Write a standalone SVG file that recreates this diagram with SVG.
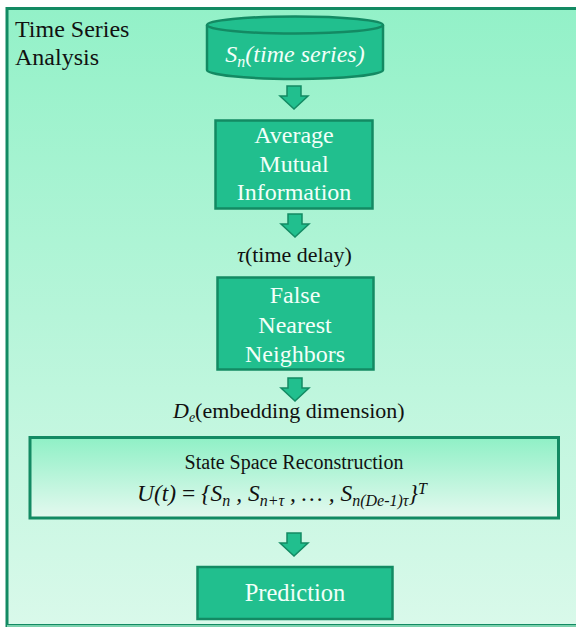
<svg xmlns="http://www.w3.org/2000/svg" width="576" height="627" viewBox="0 0 576 627">
<defs>
<linearGradient id="bg" x1="0" y1="0" x2="0" y2="1">
<stop offset="0" stop-color="#93F1C8"/>
<stop offset="1" stop-color="#D9F9EA"/>
</linearGradient>
<linearGradient id="ssr" x1="0" y1="0" x2="0" y2="1">
<stop offset="0" stop-color="#8FF0C6"/>
<stop offset="1" stop-color="#E4F9EF"/>
</linearGradient>
<path id="arr" d="M-7,0 H7 V10 H14 L0,23 L-14,10 H-7 Z"/>
</defs>
<style>
text{font-family:"Liberation Serif","Tinos","Times New Roman","DejaVu Serif",serif}
.box{fill:#21BF8E;stroke:#138A63;stroke-width:2.5}
.wt{fill:#F2FFF9;text-anchor:middle}
.bt{fill:#111}
.ar{fill:#21BF8E;stroke:#138A63;stroke-width:1.5}
</style>
<rect x="0" y="0" width="576" height="627" fill="#fff"/>
<rect x="7" y="8.5" width="575" height="617" fill="url(#bg)" stroke="#138A63" stroke-width="3"/>
<line x1="7" y1="626" x2="576" y2="626" stroke="#9FE8C6" stroke-width="1.5"/>
<g id="title">
<text class="bt" x="15" y="37" font-size="24">Time Series</text>
<text class="bt" x="15" y="65" font-size="24">Analysis</text>
</g>
<g id="timeseries">
<path class="box" d="M207,25 V70 A88,9 0 0 0 383,70 V25"/>
<ellipse class="box" cx="295" cy="25" rx="88" ry="8.5"/>
<text class="wt" x="295" y="62" font-size="24" font-style="italic">S<tspan dy="5" font-size="16">n</tspan><tspan dy="-5">(time series)</tspan></text>
</g>
<g id="ami">
<rect class="box" x="215.5" y="120.5" width="157" height="88"/>
<text class="wt" x="294" y="143" font-size="24">Average</text>
<text class="wt" x="294" y="172" font-size="24">Mutual</text>
<text class="wt" x="294" y="200" font-size="24">Information</text>
</g>
<g id="tau">
<text class="bt" x="237" y="262" font-size="22"><tspan font-style="italic">τ</tspan>(time delay)</text>
</g>
<g id="fnn">
<rect class="box" x="217.5" y="277.5" width="156" height="92"/>
<text class="wt" x="295" y="303" font-size="24">False</text>
<text class="wt" x="295" y="333" font-size="24">Nearest</text>
<text class="wt" x="295" y="362" font-size="24">Neighbors</text>
</g>
<g id="de">
<text class="bt" x="173" y="418" font-size="22"><tspan font-style="italic">D</tspan><tspan font-style="italic" dy="4" font-size="14">e</tspan><tspan dy="-4">(embedding dimension)</tspan></text>
</g>
<g id="ssrnode">
<rect x="30" y="437.5" width="528.5" height="80.5" fill="url(#ssr)" stroke="#138A63" stroke-width="3"/>
<text class="bt" x="294" y="469" font-size="20" text-anchor="middle">State Space Reconstruction</text>
<text class="bt" x="137" y="501" font-size="23.5" font-style="italic">U(t) <tspan font-style="normal">=</tspan> {S<tspan dy="5" font-size="16">n</tspan><tspan dy="-5"> , S</tspan><tspan dy="5" font-size="16">n+τ</tspan><tspan dy="-5"> , … , S</tspan><tspan dy="5" font-size="16">n(De-1)τ</tspan><tspan dy="-5">}</tspan><tspan dy="-7" font-size="16">T</tspan></text>
</g>
<g id="prediction">
<rect class="box" x="197.5" y="567" width="195" height="52"/>
<text class="wt" x="295" y="601" font-size="24.5">Prediction</text>
</g>
<g id="connectors">
<use href="#arr" class="ar" x="294" y="86"/>
<use href="#arr" class="ar" x="295" y="214"/>
<use href="#arr" class="ar" x="295" y="378"/>
<use href="#arr" class="ar" x="294" y="533"/>
</g>
</svg>
